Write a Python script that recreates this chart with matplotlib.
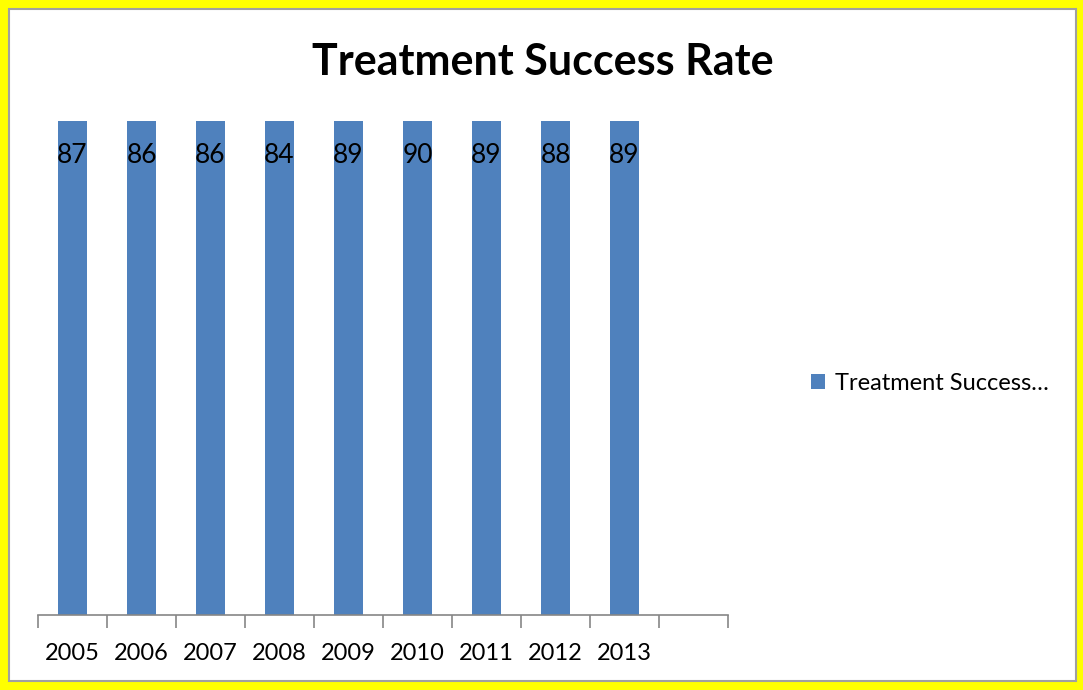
import matplotlib.pyplot as plt
from matplotlib.patches import Rectangle
from matplotlib.transforms import blended_transform_factory

years = ['2005', '2006', '2007', '2008', '2009', '2010', '2011', '2012', '2013']
success_rate = [87, 86, 86, 84, 89, 90, 89, 88, 89]
n_slots = 10  # excel left an empty category at the end
y_max = 80    # axis max below the values, so every bar is cut at the top

plt.rcParams['font.family'] = ['Lato', 'DejaVu Sans']

W, H = 1083, 690
fig = plt.figure(figsize=(W / 100, H / 100), dpi=100, facecolor='#ffff00')

# white chart area with a thin grey edge inside the yellow frame
fig.patches.append(Rectangle((9 / W, 9 / H), (1076 - 9) / W, (681 - 9) / H,
                             transform=fig.transFigure, facecolor='white',
                             edgecolor='#a0a0a0', linewidth=1.5, zorder=0))

ax = fig.add_axes([38 / W, (H - 615) / H, (728 - 38) / W, (615 - 121) / H])
ax.set_facecolor('none')
ax.set_zorder(2)

x = list(range(len(years)))
bars = ax.bar(x, success_rate, width=0.41, color='#4f81bd', label='Treatment Success…')

ax.set_xlim(-0.5, n_slots - 0.5)
ax.set_ylim(0, y_max)

# data labels sit just inside the (clipped) bar tops
trans = blended_transform_factory(ax.transData, ax.transAxes)
for xi, v in zip(x, success_rate):
    ax.text(xi, 0.93, str(v), transform=trans, ha='center', va='center',
            fontsize=19, color='black')

for side in ['top', 'right', 'left']:
    ax.spines[side].set_visible(False)
ax.spines['bottom'].set_color('#868686')
ax.spines['bottom'].set_linewidth(1.2)
ax.set_yticks([])

ax.set_xticks(x)
ax.set_xticklabels(years, fontsize=17)
ax.tick_params(axis='x', which='major', length=0, pad=20)
ax.set_xticks([i - 0.5 for i in range(n_slots + 1)], minor=True)
ax.tick_params(axis='x', which='minor', length=9, width=1.2, color='#868686')

fig.text(543 / W, 1 - 62 / H, 'Treatment Success Rate', ha='center', va='center',
         fontsize=31, fontweight='bold')

leg = fig.legend(handles=[bars], loc='center left', bbox_to_anchor=(790 / W, 1 - 383 / H),
                 frameon=False, fontsize=17, handlelength=0.6, handleheight=0.6,
                 handletextpad=0.4)
leg.set_zorder(3)

fig.savefig('out.png', dpi=100, facecolor=fig.get_facecolor())
